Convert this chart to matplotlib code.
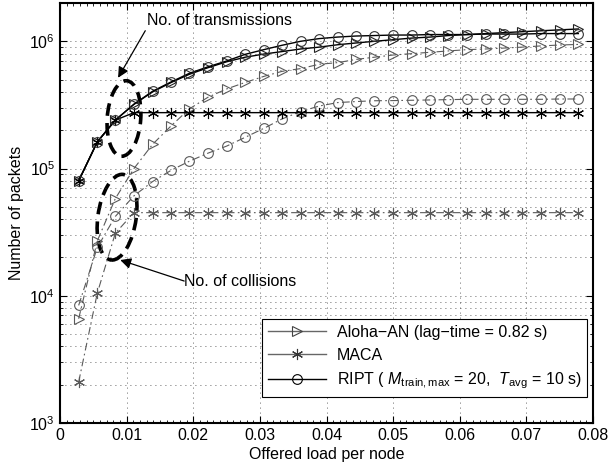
import numpy as np
import matplotlib
matplotlib.use("Agg")
import matplotlib.pyplot as plt
from matplotlib.lines import Line2D
from matplotlib.patches import Ellipse
from matplotlib.ticker import MultipleLocator, LogLocator, NullFormatter, FuncFormatter

plt.rcParams['font.family'] = ['Liberation Sans', 'DejaVu Sans']
plt.rcParams['mathtext.fontset'] = 'custom'
plt.rcParams['mathtext.rm'] = 'Liberation Sans'
plt.rcParams['mathtext.it'] = 'Liberation Sans:italic'
plt.rcParams['font.size'] = 11.5

# offered load per node (x positions of the simulated points)
load = [0.0028, 0.0056, 0.0083, 0.0111, 0.0139, 0.0167, 0.0194, 0.0222, 0.0250, 0.0278,
        0.0306, 0.0333, 0.0361, 0.0389, 0.0417, 0.0444, 0.0472, 0.0500, 0.0528, 0.0556,
        0.0583, 0.0611, 0.0639, 0.0667, 0.0694, 0.0722, 0.0750, 0.0778]

# number of transmissions
aloha_tx = [8.0e4, 1.62e5, 2.4e5, 3.2e5, 4.0e5, 4.75e5, 5.5e5, 6.2e5, 6.9e5, 7.5e5,
            7.94e5, 8.3e5, 8.7e5, 9.0e5, 9.4e5, 9.7e5, 1.0e6, 1.03e6, 1.06e6, 1.08e6,
            1.11e6, 1.13e6, 1.15e6, 1.17e6, 1.19e6, 1.21e6, 1.23e6, 1.25e6]
maca_tx = [8.0e4, 1.62e5, 2.4e5] + [2.75e5] * 25
ript_tx = [8.0e4, 1.62e5, 2.4e5, 3.2e5, 4.05e5, 4.8e5, 5.6e5, 6.3e5, 7.0e5, 7.9e5,
           8.6e5, 9.3e5, 1.0e6, 1.05e6, 1.08e6, 1.1e6, 1.11e6, 1.12e6, 1.12e6, 1.13e6,
           1.13e6, 1.13e6, 1.14e6, 1.14e6, 1.14e6, 1.15e6, 1.15e6, 1.15e6]

# number of collisions
aloha_col = [6.6e3, 2.7e4, 5.8e4, 1.0e5, 1.55e5, 2.17e5, 2.94e5, 3.63e5, 4.22e5, 4.75e5,
             5.3e5, 5.8e5, 6.1e5, 6.6e5, 6.8e5, 7.2e5, 7.5e5, 7.8e5, 8.0e5, 8.2e5,
             8.4e5, 8.6e5, 8.7e5, 8.85e5, 9.0e5, 9.2e5, 9.35e5, 9.45e5]
maca_col = [2.1e3, 1.05e4, 3.1e4] + [4.5e4] * 25
ript_col = [8.4e3, 2.4e4, 4.2e4, 6.1e4, 7.9e4, 9.7e4, 1.14e5, 1.32e5, 1.5e5, 1.76e5,
            2.07e5, 2.45e5, 2.8e5, 3.1e5, 3.3e5, 3.36e5, 3.41e5, 3.42e5, 3.44e5, 3.46e5,
            3.48e5, 3.5e5, 3.5e5, 3.5e5, 3.5e5, 3.5e5, 3.52e5, 3.52e5]

labels = ["Aloha\u2212AN (lag\u2212time = 0.82 s)",
          "MACA",
          r"RIPT ( $M_{\rm train,max}$ = 20,  $T_{\rm avg}$ = 10 s)"]

fig = plt.figure(figsize=(6.09, 4.70), dpi=100)
ax = fig.add_axes([60 / 609, 47 / 470, 533 / 609, 420 / 470])

asterisk = (6, 2, 0)
dashdot = (0, (7, 3, 1.5, 3))
gray = '#5a5a5a'
mfc = 'none'

# collisions (dash-dot, gray)
ax.plot(load, aloha_col, linestyle=dashdot, color=gray, lw=0.8, marker='>', ms=7, mfc=mfc, mec=gray, mew=0.8)
ax.plot(load, maca_col, linestyle=dashdot, color=gray, lw=0.8, marker=asterisk, ms=8, mec=gray, mew=0.8)
ax.plot(load, ript_col, linestyle=dashdot, color=gray, lw=0.8, marker='o', ms=7, mfc=mfc, mec=gray, mew=0.8)

# transmissions (solid, black)
ax.plot(load, maca_tx, '-', color='k', lw=1.0, marker=asterisk, ms=8, mec='k', mew=0.8)
ax.plot(load, aloha_tx, '-', color='k', lw=1.0, marker='>', ms=7, mfc=mfc, mec='#222222', mew=0.8)
ax.plot(load, ript_tx, '-', color='k', lw=1.0, marker='o', ms=7, mfc=mfc, mec='#333333', mew=0.8)

ax.set_yscale('log')
ax.set_xlim(0, 0.08)
ax.set_ylim(1e3, 2e6)
ax.xaxis.set_major_locator(MultipleLocator(0.01))
ax.xaxis.set_minor_locator(MultipleLocator(0.001))
ax.xaxis.set_major_formatter(FuncFormatter(lambda v, p: '%g' % round(v, 3)))
ax.yaxis.set_major_locator(LogLocator(base=10, numticks=10))
ax.yaxis.set_minor_locator(LogLocator(base=10, subs=np.arange(2, 10), numticks=20))
ax.yaxis.set_minor_formatter(NullFormatter())

ax.tick_params(which='both', direction='in', top=True, right=True)
ax.tick_params(which='major', length=5, width=0.8)
ax.tick_params(which='minor', length=2.5, width=0.6)
for s in ax.spines.values():
    s.set_linewidth(1.5)

ax.grid(True, which='major', axis='both', linestyle=(0, (1, 5)), color='#333333', lw=0.6)
ax.grid(True, which='minor', axis='y', linestyle=(0, (1, 5)), color='#333333', lw=0.6)

ax.set_xlabel("Offered load per node", labelpad=3)
ax.set_ylabel("Number of packets", labelpad=4)

# ellipses around the groups of curves
ax.add_patch(Ellipse((0.120, 0.725), 0.063, 0.180, angle=-3, transform=ax.transAxes,
                     fill=False, ec='k', lw=2.6, ls=(0, (3.5, 2))))
ax.add_patch(Ellipse((0.107, 0.490), 0.072, 0.205, angle=-6, transform=ax.transAxes,
                     fill=False, ec='k', lw=2.6, ls=(0, (3.5, 2))))

arrow = dict(arrowstyle='-|>', color='k', lw=0.9, mutation_scale=16, shrinkA=0, shrinkB=0)
ax.text(0.163, 0.958, "No. of transmissions", transform=ax.transAxes, ha='left', va='center')
ax.annotate('', xy=(0.109, 0.822), xytext=(0.160, 0.934), xycoords='axes fraction',
            textcoords='axes fraction', arrowprops=arrow)
ax.text(0.233, 0.336, "No. of collisions", transform=ax.transAxes, ha='left', va='center')
ax.annotate('', xy=(0.113, 0.388), xytext=(0.233, 0.338), xycoords='axes fraction',
            textcoords='axes fraction', arrowprops=arrow)

handles = [
    Line2D([], [], color='#666666', lw=1.0, marker='>', ms=7, mfc='none', mec='#444444', mew=0.8),
    Line2D([], [], color='#666666', lw=1.0, marker=asterisk, ms=8, mec='#333333', mew=0.8),
    Line2D([], [], color='k', lw=1.0, marker='o', ms=7, mfc='none', mec='k', mew=0.8),
]
leg = ax.legend(handles, labels, loc='lower right', bbox_to_anchor=(0.989, 0.062),
                borderaxespad=0, fancybox=False, framealpha=1, edgecolor='k',
                handlelength=3.6, handletextpad=0.7, labelspacing=0.5, borderpad=0.35)
leg.get_frame().set_linewidth(0.8)

fig.savefig("out.png", dpi=100)
